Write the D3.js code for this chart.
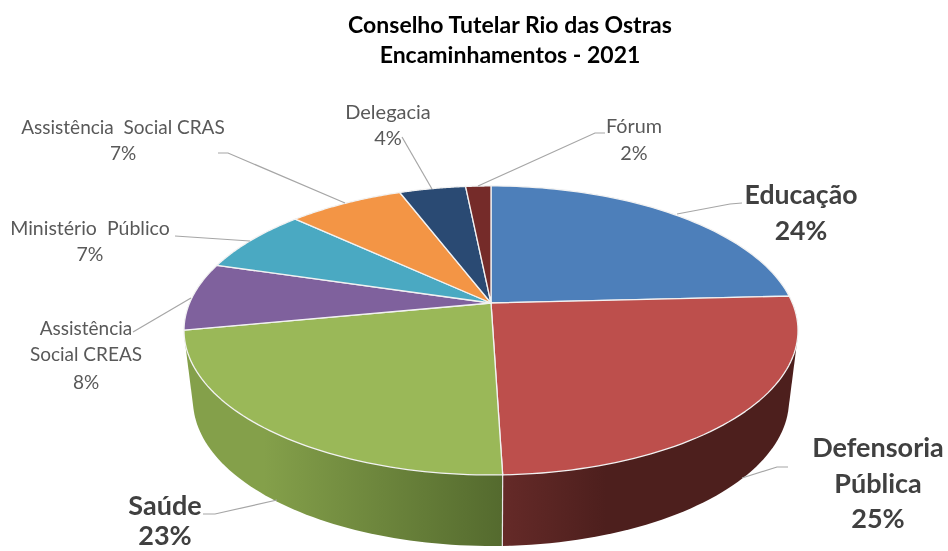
<!DOCTYPE html>
<html><head><meta charset="utf-8">
<script src="https://cdn.jsdelivr.net/npm/d3@7"></script>
<style>html,body{margin:0;padding:0;background:#fff}svg{display:block;filter:blur(.35px)}text{font-family:Lato,sans-serif}</style>
</head><body><svg id="c" width="948" height="551"></svg>
<script>
const categories=["Educação","Defensoria Pública","Saúde","Assistência Social CREAS","Ministério Público","Assistência Social CRAS","Delegacia","Fórum"];
const values=[24.2,25.3,22.5,7.6,7.3,7.3,4.2,1.6];
const topColors=["#4d7fba","#bd4f4c","#9ab858","#7f619d","#4aa9c2","#f39545","#2a4a73","#752b29"];
const wallLight=["#3b618e","#652a28","#84a04a","#604b7a","#38819a","#b97034","#1f3858","#592120"];
const wallDark=["#2a4b75","#4d1f1d","#546a2e","#4a3a5f","#2c6576","#8f5628","#182b44","#451a19"];
const titleLines=["Conselho Tutelar Rio das Ostras","Encaminhamentos - 2021"];

const svg=d3.select("#c");
const cx=491,k=.19;
const topF={a:301.4,b:139.3,y:303}, botF={a:292.6,b:140.7,y:372.3};
const proj=(f,t)=>{const u=Math.sin(t),v=-Math.cos(t),d=1-k*v;return [cx+f.a*u/d,f.y+f.b*v/d];};
const arcs=d3.pie().sort(null).value(d=>d)(values);
const samples=(a,b)=>d3.range(0,61).map(i=>a+(b-a)*i/60);
const line=d3.line();
const defs=svg.append("defs");

// side walls: only the two slices that face the viewer show a wall
const vis=arcs.map((d,i)=>({...d,i})).filter(d=>d.i===1||d.i===2);
vis.forEach(d=>{
  const ts=samples(d.startAngle,d.endAngle);
  const pts=ts.map(t=>proj(topF,t)).concat(ts.map(t=>proj(botF,t)));
  const hull=d3.polygonHull(pts);
  const xs=d3.extent(pts,p=>p[0]);
  const g=defs.append("linearGradient").attr("id","w"+d.i).attr("gradientUnits","userSpaceOnUse")
    .attr("x1",xs[0]).attr("x2",xs[1]).attr("y1",0).attr("y2",0);
  if(d.i===1){
    g.append("stop").attr("offset",0).attr("stop-color",wallLight[1]);
    g.append("stop").attr("offset",.35).attr("stop-color",wallDark[1]);
    g.append("stop").attr("offset",1).attr("stop-color",wallDark[1]);
  }else{
    g.append("stop").attr("offset",0).attr("stop-color",wallLight[d.i]);
    g.append("stop").attr("offset",.25).attr("stop-color",wallLight[d.i]);
    g.append("stop").attr("offset",1).attr("stop-color",wallDark[d.i]);
  }
  svg.append("path").attr("d",line(hull)+"Z").attr("fill",`url(#w${d.i})`);
});
const seamT=arcs[2].startAngle;
svg.append("path").attr("d",line([proj(topF,seamT),proj(botF,seamT)])).attr("stroke","#e8e8e8").attr("stroke-width",1.2);

// top face
arcs.forEach((d,i)=>{
  const pts=[[cx,topF.y]].concat(samples(d.startAngle,d.endAngle).map(t=>proj(topF,t)));
  svg.append("path").attr("d",line(pts)+"Z").attr("fill",topColors[i])
    .attr("stroke","#f2f2f2").attr("stroke-width",1.3).attr("stroke-linejoin","round");
});

// leader lines
const leaders=[
 [[742,203],[730,204],[677,214]],
 [[788,467],[777,467],[742,478]],
 [[203,514],[215,514],[277,500]],
 [[133,332],[191,298]],
 [[175,236],[250,241]],
 [[218,153],[228,153],[345,203]],
 [[402,137],[432,189]],
 [[605,133],[595,133],[478,186]]
];
leaders.forEach(l=>svg.append("path").attr("d",line(l)).attr("fill","none").attr("stroke","#a6a6a6").attr("stroke-width",1.2));

// labels
const pct=v=>Math.round(v)+"%";
const placement=[
 {x:801,y:[204,240],lines:["Educação"],size:26.6,big:1},
 {x:878,y:[457,493,528],lines:["Defensoria","Pública"],size:27,big:1},
 {x:165,y:[515,545],lines:["Saúde"],size:27,big:1},
 {x:86,y:[335,361,389],lines:["Assistência","Social CREAS"],size:19},
 {x:90,y:[235,261],lines:["Ministério  Público"],size:19.5},
 {x:123,y:[134,160],lines:["Assistência  Social CRAS"],size:19},
 {x:388,y:[119,145],lines:["Delegacia"],size:20},
 {x:634,y:[133,160],lines:["Fórum"],size:19.8}
];
placement.forEach((p,i)=>{
  p.lines.concat([pct(values[i])]).forEach((s,j)=>{
    svg.append("text").attr("x",p.x).attr("y",p.y[j]).attr("text-anchor","middle")
      .style("white-space","pre")
      .attr("font-size",p.size).attr("font-weight",p.big?700:400)
      .attr("fill",p.big?"#404040":"#595959").text(s);
  });
});

// title
titleLines.forEach((s,i)=>svg.append("text").attr("x",510).attr("y",[33,63][i]).attr("text-anchor","middle")
  .attr("font-size",23).attr("font-weight",700).attr("fill","#000").text(s));
</script></body></html>
